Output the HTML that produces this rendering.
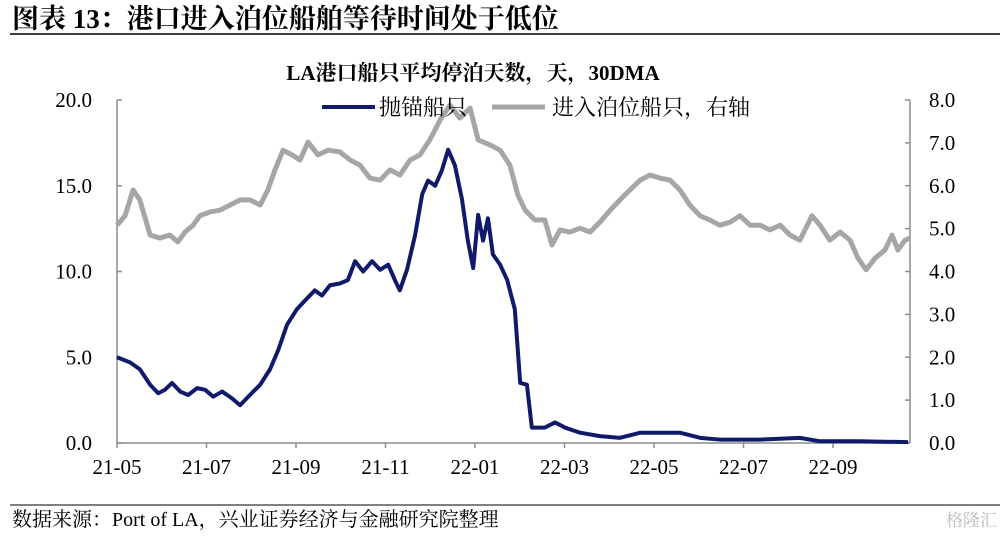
<!DOCTYPE html>
<html><head><meta charset="utf-8">
<style>
body{margin:0;background:#fff;width:1002px;height:534px;overflow:hidden;font-family:"Liberation Serif","Noto Serif CJK SC",serif;}
svg text{font-family:"Liberation Serif","Noto Serif CJK SC",serif;}
</style></head>
<body>
<svg id="c" width="1002" height="534">
<text x="12" y="28" font-size="27" font-weight="bold">图表 13：港口进入泊位船舶等待时间处于低位</text>
<line x1="10" y1="34" x2="1000" y2="34" stroke="#000" stroke-width="1.5"/>
<text x="473" y="80" font-size="21" font-weight="bold" text-anchor="middle">LA港口船只平均停泊天数，天，30DMA</text>
<g id="plot"></g>
<line x1="322" y1="107" x2="375" y2="107" stroke="#0f1a6b" stroke-width="4"/>
<text x="379" y="115" font-size="22">抛锚船只</text>
<line x1="492" y1="107" x2="545" y2="107" stroke="#a6a6a6" stroke-width="5"/>
<text x="552" y="115" font-size="22">进入泊位船只，右轴</text>
<line x1="10" y1="505" x2="1000" y2="505" stroke="#000" stroke-width="1"/>
<text x="12" y="526" font-size="20">数据来源：Port of LA，兴业证券经济与金融研究院整理</text>
<text x="997" y="526" font-size="17" fill="#bbb" text-anchor="end" font-family="Liberation Sans,Noto Sans CJK SC,sans-serif">格隆汇</text>
</svg>
<script>
const xTickLabels=["21-05","21-07","21-09","21-11","22-01","22-03","22-05","22-07","22-09"];
const leftTicks=["0.0","5.0","10.0","15.0","20.0"];
const rightTicks=["0.0","1.0","2.0","3.0","4.0","5.0","6.0","7.0","8.0"];
const anchoredT=[0,.29,.51,.74,.92,1.07,1.23,1.41,1.59,1.79,1.97,2.15,2.35,2.57,2.75,2.97,3.2,3.42,3.6,3.8,4.02,4.2,4.42,4.58,4.76,4.98,5.16,5.32,5.5,5.7,5.88,6.06,6.21,6.32,6.48,6.66,6.82,6.95,7.11,7.26,7.4,7.55,7.71,7.84,7.96,8.07,8.18,8.29,8.4,8.56,8.72,8.89,9.01,9.16,9.27,9.56,9.79,10.01,10.35,10.79,11.24,11.69,12.13,12.58,13.03,13.47,14.37,15.26,15.71,16.6,17.68];
const anchoredV=[5.0,4.7,4.3,3.4,2.9,3.1,3.5,3.0,2.8,3.2,3.1,2.7,3.0,2.6,2.2,2.8,3.4,4.3,5.4,6.9,7.8,8.3,8.9,8.6,9.2,9.3,9.5,10.6,10.0,10.6,10.1,10.4,9.5,8.9,10.1,12.1,14.5,15.3,15.0,15.9,17.1,16.2,14.2,11.8,10.2,13.3,11.8,13.1,11.0,10.4,9.5,7.8,3.5,3.4,0.9,0.9,1.2,0.9,0.6,0.4,0.3,0.6,0.6,0.6,0.3,0.2,0.2,0.3,0.1,0.1,0.05];
const berthT=[0,.18,.36,.51,.74,.96,1.18,1.36,1.52,1.7,1.85,2.08,2.3,2.53,2.75,2.97,3.2,3.37,3.53,3.71,3.91,4.09,4.27,4.49,4.72,4.98,5.21,5.43,5.65,5.88,6.1,6.32,6.55,6.77,6.99,7.22,7.44,7.66,7.89,8.07,8.34,8.56,8.78,8.96,9.12,9.34,9.56,9.72,9.9,10.12,10.35,10.57,10.79,11.02,11.24,11.46,11.69,11.91,12.13,12.36,12.58,12.8,13.03,13.25,13.47,13.7,13.92,14.15,14.37,14.59,14.82,15.04,15.26,15.53,15.71,15.93,16.16,16.38,16.56,16.74,16.94,17.16,17.32,17.45,17.61,17.72];
const berthV=[5.08,5.3,5.9,5.67,4.85,4.78,4.85,4.69,4.92,5.08,5.3,5.39,5.43,5.55,5.67,5.67,5.55,5.9,6.37,6.83,6.72,6.6,7.02,6.72,6.83,6.79,6.6,6.48,6.18,6.13,6.37,6.25,6.6,6.72,7.07,7.53,7.88,7.58,7.81,7.07,6.95,6.83,6.48,5.78,5.43,5.2,5.2,4.62,4.97,4.92,5.01,4.92,5.15,5.43,5.67,5.9,6.13,6.25,6.18,6.13,5.9,5.55,5.3,5.2,5.08,5.15,5.3,5.08,5.08,4.97,5.08,4.85,4.73,5.3,5.08,4.73,4.92,4.73,4.31,4.04,4.31,4.5,4.85,4.5,4.73,4.78];
const X0=117,X1=910,Y0=443,Y1=100,MW=44.75;
const xs=m=>X0+m*MW, yl=v=>Y0-(v/20)*(Y0-Y1), yr=v=>Y0-(v/8)*(Y0-Y1);
const NS="http://www.w3.org/2000/svg", g=document.getElementById('plot');
function mk(t,a){const e=document.createElementNS(NS,t);for(const k in a)e.setAttribute(k,a[k]);g.appendChild(e);return e;}
const AX='#8c8c8c';
let a1=mk('line',{x1:X0,x2:X0,y1:Y1,y2:Y0,stroke:AX,'stroke-width':1.5});


let a2=mk('line',{x1:X1,x2:X1,y1:Y1,y2:Y0,stroke:AX,'stroke-width':1.5});


let a3=mk('line',{x1:X0,x2:X1,y1:Y0,y2:Y0,stroke:AX,'stroke-width':1.5});


leftTicks.forEach(s=>{const v=parseFloat(s);
 let t=mk('text',{x:92,y:yl(v)+7,'font-size':21,'text-anchor':'end'});t.textContent=s;
 
 
 mk('line',{x1:X0,x2:X0+5,y1:yl(v),y2:yl(v),stroke:AX,'stroke-width':1.5});});
rightTicks.forEach(s=>{const v=parseFloat(s);
 let t=mk('text',{x:929,y:yr(v)+7,'font-size':21});t.textContent=s;
 
 
 mk('line',{x1:X1-5,x2:X1,y1:yr(v),y2:yr(v),stroke:AX,'stroke-width':1.5});});
xTickLabels.forEach((s,i)=>{const x=xs(i*2);
 let t=mk('text',{x:x,y:474,'font-size':21,'text-anchor':'middle'});t.textContent=s;
 
 
 mk('line',{x1:x,x2:x,y1:Y0,y2:Y0+5,stroke:AX,'stroke-width':1.5});});
let p=mk('polyline',{points:berthT.map((t,i)=>xs(t)+','+yr(berthV[i])).join(' '),fill:'none',stroke:'#a6a6a6','stroke-width':5,'stroke-linejoin':'round'});


let q=mk('polyline',{points:anchoredT.map((t,i)=>xs(t)+','+yl(anchoredV[i])).join(' '),fill:'none',stroke:'#0f1a6b','stroke-width':4,'stroke-linejoin':'round'});


</script>
</body></html>
